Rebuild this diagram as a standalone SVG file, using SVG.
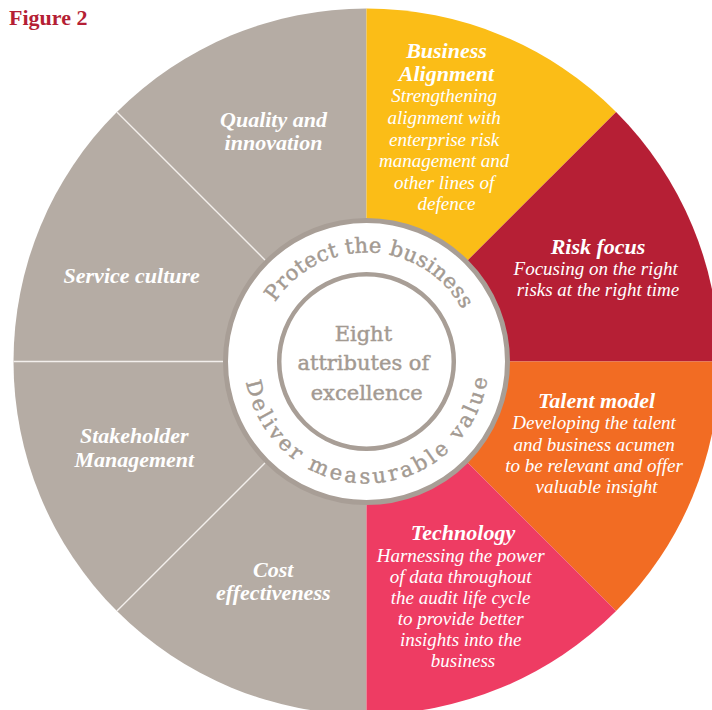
<svg xmlns="http://www.w3.org/2000/svg" width="712" height="710" viewBox="0 0 712 710">
  <style>
    .gray { fill: #b5aca4; }
    .title { font-family: "Liberation Serif", "Times New Roman", serif; font-style: italic; font-weight: bold; font-size: 22px; fill: #ffffff; text-anchor: middle; }
    .body { font-family: "Liberation Serif", "Times New Roman", serif; font-style: italic; font-size: 19px; fill: #ffffff; text-anchor: middle; }
    .hub { font-family: "DejaVu Serif", "Liberation Serif", serif; font-size: 21px; fill: #a39a92; stroke: #a39a92; stroke-width: 0.45; text-anchor: middle; }
    .divider { stroke: #f3efec; stroke-width: 1.4; fill: none; }
  </style>
  <defs>
    <path id="arcTop" d="M 257.5 361.5 A 109 109 0 0 1 475.5 361.5"/>
    <path id="arcBottom" d="M 244.5 361.5 A 122 122 0 0 0 488.5 361.5"/>
  </defs>

  <rect width="712" height="710" fill="#ffffff"/>

  <text x="9" y="25" font-family="Liberation Serif, Times New Roman, serif" font-weight="bold" font-size="22" fill="#b51f35">Figure 2</text>

  <!-- left half of the wheel: four grey attributes -->
  <g id="grey-half">
    <path class="gray" d="M 366.5 361.5 L 366.5 8.5 A 353 353 0 0 0 366.5 714.5 Z"/>
  </g>

  <g id="business-alignment">
    <path fill="#fbbd17" d="M 366.5 361.5 L 366.5 8.5 A 353 353 0 0 1 616.1 111.9 Z"/>
    <text class="title"><tspan x="446.5" y="58">Business</tspan><tspan x="446.5" y="81">Alignment</tspan></text>
    <text class="body">
      <tspan x="446.5" y="102">Strengthening</tspan>
      <tspan x="446.5" y="124">alignment with</tspan>
      <tspan x="446.5" y="145.5">enterprise risk</tspan>
      <tspan x="446.5" y="167">management and</tspan>
      <tspan x="446.5" y="188.5">other lines of</tspan>
      <tspan x="446.5" y="210">defence</tspan>
    </text>
  </g>

  <g id="risk-focus">
    <path fill="#b61f35" d="M 366.5 361.5 L 616.1 111.9 A 353 353 0 0 1 719.5 361.5 Z"/>
    <text class="title" x="598" y="253.5">Risk focus</text>
    <text class="body">
      <tspan x="598" y="275">Focusing on the right</tspan>
      <tspan x="598" y="296">risks at the right time</tspan>
    </text>
  </g>

  <g id="talent-model">
    <path fill="#f26c23" d="M 366.5 361.5 L 719.5 361.5 A 353 353 0 0 1 616.1 611.1 Z"/>
    <text class="title" x="596.5" y="407.5">Talent model</text>
    <text class="body">
      <tspan x="596.5" y="429">Developing the talent</tspan>
      <tspan x="596.5" y="451">and business acumen</tspan>
      <tspan x="596.5" y="472.3">to be relevant and offer</tspan>
      <tspan x="596.5" y="492.5">valuable insight</tspan>
    </text>
  </g>

  <g id="technology">
    <path fill="#ee3c63" d="M 366.5 361.5 L 616.1 611.1 A 353 353 0 0 1 366.5 714.5 Z"/>
    <text class="title" x="463" y="540">Technology</text>
    <text class="body">
      <tspan x="463" y="561.7">Harnessing the power</tspan>
      <tspan x="463" y="582.7">of data throughout</tspan>
      <tspan x="463" y="604">the audit life cycle</tspan>
      <tspan x="463" y="625">to provide better</tspan>
      <tspan x="463" y="645.7">insights into the</tspan>
      <tspan x="463" y="666.7">business</tspan>
    </text>
  </g>

  <!-- thin white rules between the grey attributes -->
  <g id="dividers">
    <line class="divider" x1="265.4" y1="260.4" x2="116.9" y2="111.9"/>
    <line class="divider" x1="223.5" y1="361.5" x2="13.5" y2="361.5"/>
    <line class="divider" x1="265.4" y1="462.6" x2="116.9" y2="611.1"/>
  </g>

  <g id="quality-innovation">
    <text class="title"><tspan x="273.5" y="127">Quality and</tspan><tspan x="273.5" y="150">innovation</tspan></text>
  </g>
  <g id="service-culture">
    <text class="title" x="131.7" y="282.7">Service culture</text>
  </g>
  <g id="stakeholder-management">
    <text class="title"><tspan x="134.3" y="443.3">Stakeholder</tspan><tspan x="134.3" y="466.7">Management</tspan></text>
  </g>
  <g id="cost-effectiveness">
    <text class="title"><tspan x="273.3" y="576.7">Cost</tspan><tspan x="273.3" y="600">effectiveness</tspan></text>
  </g>

  <!-- hub: white disc with two rings and curved mottos -->
  <g id="hub">
    <circle cx="366.5" cy="361.5" r="141" fill="#ffffff" stroke="#a89e96" stroke-width="5"/>
    <circle cx="366.5" cy="361.5" r="87.3" fill="none" stroke="#a89e96" stroke-width="4.5"/>
    <text class="hub" letter-spacing="0.4"><textPath href="#arcTop" startOffset="175.4">Protect the business</textPath></text>
    <text class="hub" letter-spacing="3.2"><textPath href="#arcBottom" startOffset="194.9">Deliver measurable value</textPath></text>
    <text class="hub">
      <tspan x="366.7" y="340.5">Eight</tspan>
      <tspan x="366.7" y="370">attributes of</tspan>
      <tspan x="366.7" y="400">excellence</tspan>
    </text>
  </g>
</svg>
